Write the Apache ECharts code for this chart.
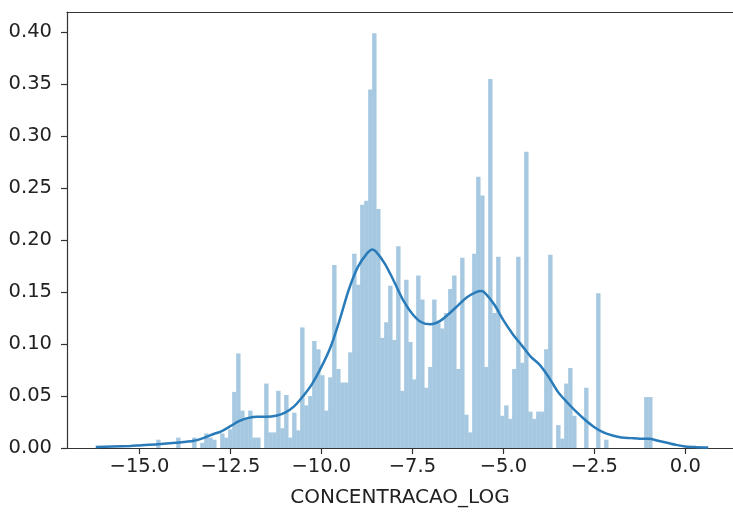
<!DOCTYPE html>
<html>
<head>
<meta charset="utf-8">
<script src="https://cdn.jsdelivr.net/npm/echarts@6/dist/echarts.min.js"></script>
<style>
  html, body { margin: 0; padding: 0; background: #fff; }
  #chart { width: 733px; height: 513px; }
</style>
</head>
<body>
<div id="chart"></div>
<script>
// Histograma (densidad) de CONCENTRACAO_LOG con curva KDE
const binStart = -14.54;
const binWidth = 0.1099;
const densidad = [
  0.008, 0, 0, 0, 0, 0.010, 0, 0, 0, 0.010,
  0, 0.005, 0.014, 0.010, 0.008, 0, 0.014, 0.010, 0.018, 0.054,
  0.091, 0.036, 0.029, 0.036, 0.010, 0.010, 0, 0.062, 0.015, 0.015,
  0.055, 0.019, 0.051, 0.010, 0.034, 0.017, 0.116, 0.041, 0.050, 0.103,
  0.095, 0.070, 0.036, 0.068, 0.176, 0.076, 0.063, 0.063, 0.092, 0.187,
  0.157, 0.234, 0.238, 0.345, 0.399, 0.230, 0.106, 0.121, 0.156, 0.104,
  0.194, 0.055, 0.162, 0.102, 0.066, 0.166, 0.143, 0.058, 0.078, 0.143,
  0.121, 0.115, 0.130, 0.153, 0.166, 0.076, 0.183, 0.032, 0.015, 0.187,
  0.261, 0.243, 0.078, 0.355, 0.130, 0.184, 0.031, 0.041, 0.028, 0.076,
  0.184, 0.082, 0.285, 0.035, 0.028, 0.035, 0.035, 0.095, 0.186, 0,
  0.022, 0.009, 0.062, 0.077, 0.031, 0, 0, 0.058, 0, 0,
  0.149, 0, 0.008, 0, 0, 0, 0, 0, 0, 0,
  0, 0, 0.049, 0.049,
];

// curva KDE
const kdeX = [
  -16.2, -15.75, -15.25, -15, -14.5, -14, -13.5, -13.25, -13, -12.75,
  -12.5, -12.25, -12, -11.75, -11.5, -11.25, -11, -10.75, -10.5, -10.25,
  -10, -9.75, -9.5, -9.25, -9, -8.75, -8.6, -8.5, -8.25, -8,
  -7.75, -7.5, -7.25, -7, -6.75, -6.5, -6.25, -6, -5.75, -5.6,
  -5.5, -5.25, -5, -4.75, -4.5, -4.25, -4, -3.75, -3.5, -3.25,
  -3, -2.75, -2.5, -2.25, -2, -1.75, -1.5, -1.25, -1, -0.75,
  -0.5, -0.25, 0, 0.3, 0.63,
];
const kdeY = [
  0.001, 0.0015, 0.002, 0.0025, 0.0035, 0.005, 0.007, 0.0095, 0.013, 0.016,
  0.021, 0.026, 0.029, 0.030, 0.030, 0.031, 0.034, 0.040, 0.050, 0.062,
  0.078, 0.097, 0.123, 0.152, 0.174, 0.187, 0.191, 0.189, 0.177, 0.160,
  0.142, 0.129, 0.121, 0.119, 0.122, 0.129, 0.137, 0.145, 0.150, 0.151,
  0.149, 0.138, 0.123, 0.110, 0.099, 0.088, 0.080, 0.068, 0.054, 0.044,
  0.035, 0.027, 0.020, 0.015, 0.012, 0.010, 0.0095, 0.009, 0.009, 0.007,
  0.005, 0.003, 0.0015, 0.0008, 0.0004,
];

const xTicks = [-15, -12.5, -10, -7.5, -5, -2.5, 0];
const yTicks = [0, 0.05, 0.1, 0.15, 0.2, 0.25, 0.3, 0.35, 0.4];

const barData = densidad.map((h, i) => [
  binStart + i * binWidth,
  binStart + (i + 1) * binWidth,
  h,
]);
const kdeData = kdeX.map((x, i) => [x, kdeY[i]]);

const font = "DejaVu Sans";
const xMin = -16.99;
const xMax = 1.31; // el marco sigue más allá del borde derecho
const spine = { show: true, onZero: false, lineStyle: { color: "#333", width: 1.2 } };

const chart = echarts.init(document.getElementById("chart"));
chart.setOption({
  animation: false,
  backgroundColor: "#fff",
  grid: { left: 67, top: 12, right: 0, bottom: 64 },
  xAxis: [
    {
      type: "value",
      min: xMin,
      max: xMax,
      name: "CONCENTRACAO_LOG",
      nameLocation: "middle",
      nameGap: 40,
      nameTextStyle: { fontFamily: font, fontSize: 20, color: "#222" },
      splitLine: { show: false },
      axisLine: spine,
      axisTick: {
        show: true,
        customValues: xTicks,
        length: 6,
        lineStyle: { color: "#333", width: 1.2 },
      },
      axisLabel: {
        customValues: xTicks,
        margin: 9,
        fontFamily: font,
        fontSize: 19.5,
        color: "#222",
        formatter: (v) => v.toFixed(1).replace("-", "\u2212"),
      },
    },
    {
      type: "value",
      position: "top",
      min: xMin,
      max: xMax,
      splitLine: { show: false },
      axisLine: spine,
      axisTick: { show: false },
      axisLabel: { show: false },
    },
  ],
  yAxis: {
    type: "value",
    min: 0,
    max: 0.4195,
    splitLine: { show: false },
    axisLine: spine,
    axisTick: {
      show: true,
      customValues: yTicks,
      length: 6,
      lineStyle: { color: "#333", width: 1.2 },
    },
    axisLabel: {
      customValues: yTicks,
      margin: 15,
      fontFamily: font,
      fontSize: 19.5,
      color: "#222",
      formatter: (v) => v.toFixed(2),
    },
  },
  series: [
    {
      type: "custom",
      data: barData,
      encode: { x: [0, 1], y: 2 },
      renderItem: function (params, api) {
        if (!api.value(2)) return null;
        const p0 = api.coord([api.value(0), api.value(2)]);
        const p1 = api.coord([api.value(1), 0]);
        return {
          type: "rect",
          shape: {
            x: p0[0],
            y: p0[1],
            width: p1[0] - p0[0] + 0.4,
            height: p1[1] - p0[1],
          },
          style: { fill: "#a6c9e1" },
        };
      },
      z: 2,
    },
    {
      type: "line",
      data: kdeData,
      smooth: 0.3,
      showSymbol: false,
      lineStyle: { color: "#2a7bb9", width: 2.5 },
      z: 3,
    },
  ],
});
</script>
</body>
</html>
